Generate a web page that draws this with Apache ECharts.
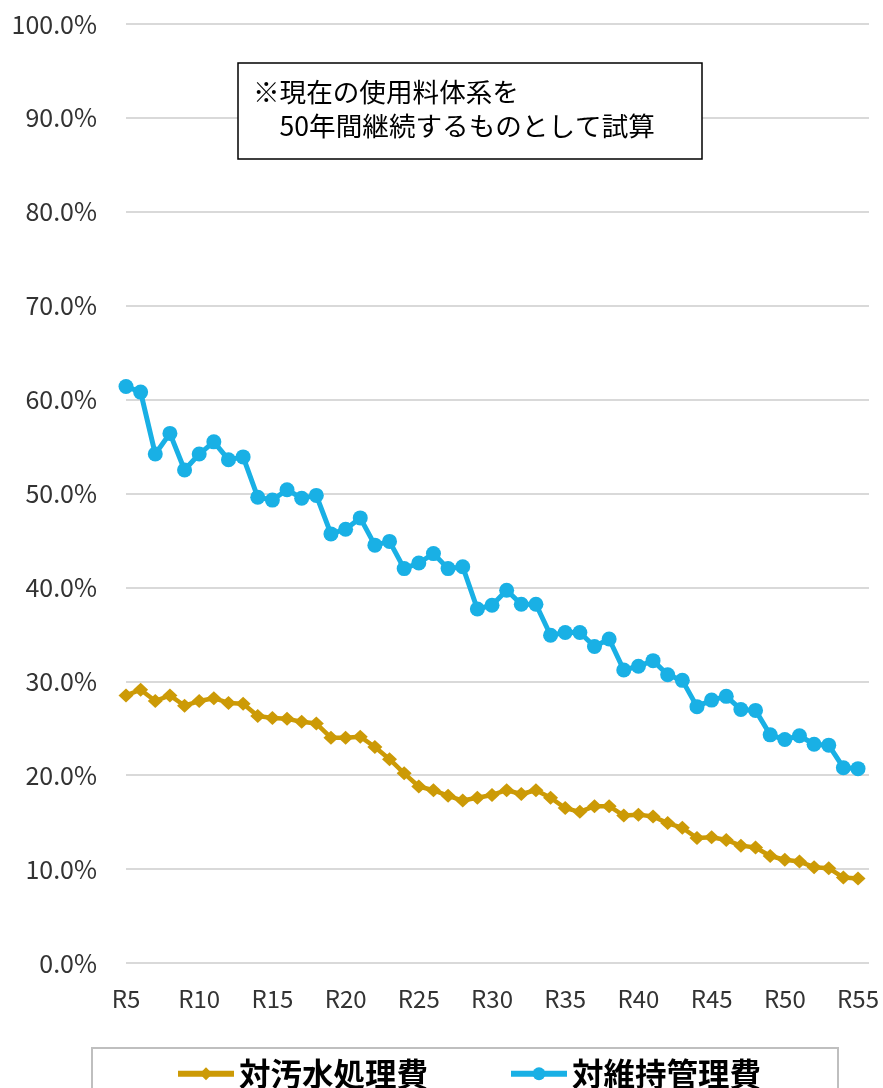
<!DOCTYPE html>
<html>
<head>
<meta charset="utf-8">
<script src="https://cdn.jsdelivr.net/npm/echarts@6/dist/echarts.min.js"></script>
<style>
  html, body { margin: 0; padding: 0; background: #fff; }
  #chart { width: 883px; height: 1088px; }
</style>
</head>
<body>
<div id="chart"></div>
<script>
// 年度 (R5 〜 R55)
const years = [5, 6, 7, 8, 9, 10, 11, 12, 13, 14, 15, 16, 17, 18, 19, 20, 21, 22, 23, 24, 25,
  26, 27, 28, 29, 30, 31, 32, 33, 34, 35, 36, 37, 38, 39, 40, 41, 42, 43, 44, 45,
  46, 47, 48, 49, 50, 51, 52, 53, 54, 55];

// 対汚水処理費 (%)
const sewageCost = [28.5, 29.1, 27.9, 28.5, 27.4, 27.9, 28.2, 27.7, 27.6, 26.3, 26.1,
  26.0, 25.7, 25.5, 24.0, 24.0, 24.1, 23.0, 21.7, 20.2, 18.8,
  18.4, 17.8, 17.3, 17.6, 17.9, 18.4, 18.0, 18.4, 17.6, 16.5,
  16.1, 16.7, 16.7, 15.7, 15.8, 15.6, 14.9, 14.4, 13.3, 13.4,
  13.1, 12.5, 12.3, 11.4, 11.0, 10.8, 10.2, 10.1, 9.1, 9.0];

// 対維持管理費 (%)
const maintenanceCost = [61.4, 60.8, 54.2, 56.4, 52.5, 54.2, 55.5, 53.6, 53.9, 49.6, 49.3,
  50.4, 49.5, 49.8, 45.7, 46.2, 47.4, 44.5, 44.9, 42.0, 42.6,
  43.6, 42.0, 42.2, 37.7, 38.1, 39.7, 38.2, 38.2, 34.9, 35.2,
  35.2, 33.7, 34.5, 31.2, 31.6, 32.2, 30.7, 30.1, 27.3, 28.0,
  28.4, 27.0, 26.9, 24.3, 23.8, 24.2, 23.3, 23.2, 20.8, 20.7];

const seriesNames = ['対汚水処理費', '対維持管理費'];
const noteLines = ['※現在の使用料体系を', '　50年間継続するものとして試算'];

const chart = echarts.init(document.getElementById('chart'));
const font = '"Noto Sans CJK JP", "Noto Sans", sans-serif';

const option = {
  animation: false,
  textStyle: { fontFamily: font },
  grid: { left: 126, right: 14, top: 24, bottom: 125 },
  xAxis: {
    type: 'value',
    min: 5,
    max: 55.75,
    interval: 5,
    axisLine: { show: false },
    axisTick: { show: false },
    splitLine: { show: false },
    axisLabel: {
      margin: 24,
      fontSize: 24,
      color: '#333',
      fontFamily: font,
      formatter: (v) => (v % 5 === 0 ? 'R' + v : '')
    }
  },
  yAxis: {
    type: 'value',
    min: 0,
    max: 100,
    interval: 10,
    axisLine: { show: false },
    axisTick: { show: false },
    splitLine: { lineStyle: { color: '#d9d9d9', width: 2 } },
    axisLabel: {
      margin: 29,
      fontSize: 25,
      color: '#333',
      fontFamily: font,
      formatter: (v) => v.toFixed(1) + '%'
    }
  },
  legend: {
    data: seriesNames,
    left: 92,
    top: 1048,
    padding: [10, 77, 30, 83],
    itemGap: 80,
    itemWidth: 56,
    itemHeight: 16,
    borderColor: '#bfbfbf',
    borderWidth: 2,
    lineStyle: { width: 6 },
    textStyle: { fontSize: 31.5, fontWeight: 'bold', color: '#000', fontFamily: font }
  },
  graphic: [
    {
      type: 'rect',
      z: 100,
      shape: { x: 238, y: 63, width: 464, height: 96 },
      style: { fill: '#fff', stroke: '#000', lineWidth: 1.5 }
    },
    {
      type: 'text',
      z: 101,
      x: 253, y: 75,
      style: { text: noteLines.join('\n'), font: '26.6px ' + font, fill: '#000', lineHeight: 34 }
    }
  ],
  series: [
    {
      name: seriesNames[0],
      type: 'line',
      data: years.map((y, i) => [y, sewageCost[i]]),
      symbol: 'diamond',
      symbolSize: [15, 14],
      color: '#cc9a06',
      lineStyle: { width: 4.5, color: '#cc9a06' },
      itemStyle: { color: '#cc9a06' }
    },
    {
      name: seriesNames[1],
      type: 'line',
      data: years.map((y, i) => [y, maintenanceCost[i]]),
      symbol: 'circle',
      symbolSize: 15,
      color: '#19b0e5',
      lineStyle: { width: 5, color: '#19b0e5' },
      itemStyle: { color: '#19b0e5' }
    }
  ]
};

chart.setOption(option);
</script>
</body>
</html>
